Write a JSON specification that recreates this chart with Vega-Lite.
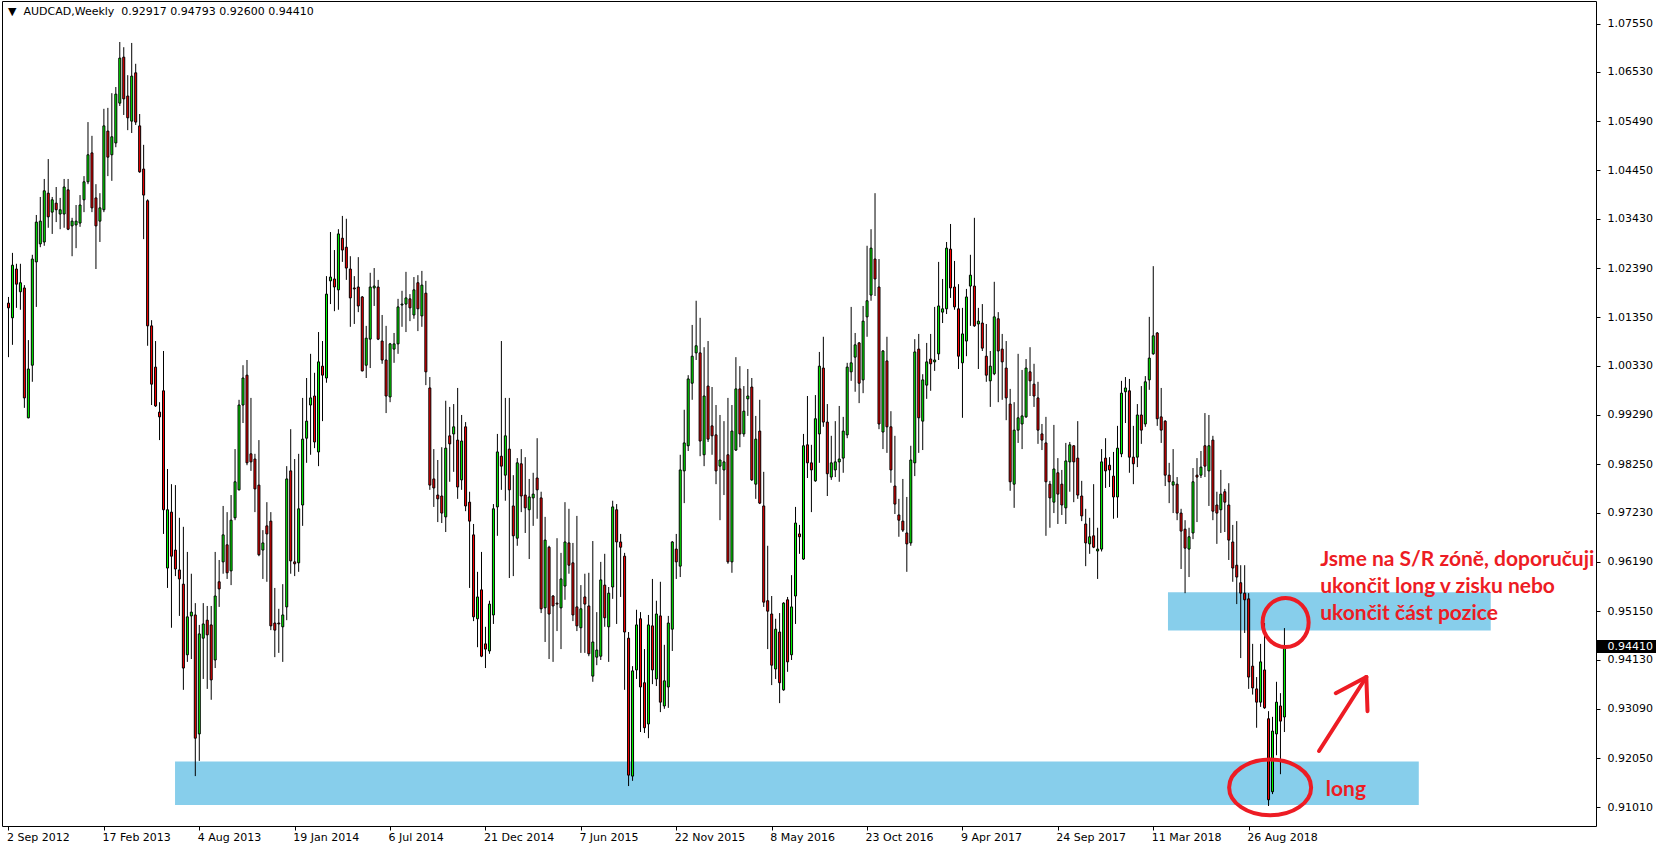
{
"$schema":"https://vega.github.io/schema/vega-lite/v6.json",
"width":1594,"height":825,
"autosize":{"type":"none"},
"padding":{"left":2,"top":1,"right":60,"bottom":24},
"background":"white",
"config":{"view":{"stroke":"black","strokeWidth":1},"font":"DejaVu Sans"},
"datasets":{
"candles":[
{"i":0,"o":1.0165,"h":1.0178,"l":1.0051,"c":1.0155},
{"i":1,"o":1.0134,"h":1.0271,"l":1.0077,"c":1.0245},
{"i":2,"o":1.0237,"h":1.0248,"l":1.0155,"c":1.0205},
{"i":3,"o":1.0189,"h":1.0248,"l":1.0151,"c":1.0208},
{"i":4,"o":1.0197,"h":1.0203,"l":0.9944,"c":0.9965},
{"i":5,"o":0.9923,"h":1.0087,"l":0.9922,"c":1.0026},
{"i":6,"o":1.0034,"h":1.0267,"l":0.9999,"c":1.0258},
{"i":7,"o":1.0252,"h":1.0351,"l":1.0157,"c":1.0336},
{"i":8,"o":1.0290,"h":1.0389,"l":1.0283,"c":1.0338},
{"i":9,"o":1.0294,"h":1.0427,"l":1.0286,"c":1.0402},
{"i":10,"o":1.0397,"h":1.0469,"l":1.0324,"c":1.0347},
{"i":11,"o":1.0357,"h":1.0389,"l":1.0311,"c":1.0383},
{"i":12,"o":1.0376,"h":1.0410,"l":1.0336,"c":1.0362},
{"i":13,"o":1.0353,"h":1.0387,"l":1.0321,"c":1.0362},
{"i":14,"o":1.0353,"h":1.0427,"l":1.0324,"c":1.0410},
{"i":15,"o":1.0404,"h":1.0427,"l":1.0319,"c":1.0321},
{"i":16,"o":1.0328,"h":1.0345,"l":1.0264,"c":1.0338},
{"i":17,"o":1.0330,"h":1.0372,"l":1.0281,"c":1.0338},
{"i":18,"o":1.0334,"h":1.0393,"l":1.0326,"c":1.0372},
{"i":19,"o":1.0383,"h":1.0433,"l":1.0357,"c":1.0421},
{"i":20,"o":1.0421,"h":1.0547,"l":1.0416,"c":1.0478},
{"i":21,"o":1.0482,"h":1.0518,"l":1.0357,"c":1.0366},
{"i":22,"o":1.0387,"h":1.0416,"l":1.0237,"c":1.0328},
{"i":23,"o":1.0338,"h":1.0397,"l":1.0294,"c":1.0366},
{"i":24,"o":1.0362,"h":1.0575,"l":1.0357,"c":1.0539},
{"i":25,"o":1.0528,"h":1.0577,"l":1.0433,"c":1.0473},
{"i":26,"o":1.0478,"h":1.0608,"l":1.0423,"c":1.0516},
{"i":27,"o":1.0503,"h":1.0621,"l":1.0494,"c":1.0606},
{"i":28,"o":1.0587,"h":1.0716,"l":1.0581,"c":1.0682},
{"i":29,"o":1.0684,"h":1.0705,"l":1.0562,"c":1.0596},
{"i":30,"o":1.0602,"h":1.0646,"l":1.0530,"c":1.0556},
{"i":31,"o":1.0549,"h":1.0714,"l":1.0524,"c":1.0644},
{"i":32,"o":1.0651,"h":1.0670,"l":1.0541,"c":1.0547},
{"i":33,"o":1.0539,"h":1.0564,"l":1.0440,"c":1.0442},
{"i":34,"o":1.0448,"h":1.0499,"l":1.0300,"c":1.0393},
{"i":35,"o":1.0381,"h":1.0384,"l":1.0075,"c":1.0117},
{"i":36,"o":1.0117,"h":1.0129,"l":0.9950,"c":0.9994},
{"i":37,"o":1.0030,"h":1.0085,"l":0.9946,"c":0.9948},
{"i":38,"o":0.9935,"h":0.9956,"l":0.9876,"c":0.9925},
{"i":39,"o":0.9980,"h":1.0064,"l":0.9678,"c":0.9729},
{"i":40,"o":0.9606,"h":0.9815,"l":0.9564,"c":0.9729},
{"i":41,"o":0.9724,"h":0.9783,"l":0.9480,"c":0.9631},
{"i":42,"o":0.9644,"h":0.9781,"l":0.9589,"c":0.9604},
{"i":43,"o":0.9602,"h":0.9712,"l":0.9505,"c":0.9583},
{"i":44,"o":0.9572,"h":0.9693,"l":0.9349,"c":0.9395},
{"i":45,"o":0.9423,"h":0.9640,"l":0.9408,"c":0.9503},
{"i":46,"o":0.9505,"h":0.9594,"l":0.9414,"c":0.9513},
{"i":47,"o":0.9507,"h":0.9532,"l":0.9167,"c":0.9247},
{"i":48,"o":0.9256,"h":0.9486,"l":0.9199,"c":0.9467},
{"i":49,"o":0.9458,"h":0.9532,"l":0.9372,"c":0.9488},
{"i":50,"o":0.9496,"h":0.9526,"l":0.9351,"c":0.9465},
{"i":51,"o":0.9486,"h":0.9526,"l":0.9328,"c":0.9370},
{"i":52,"o":0.9412,"h":0.9640,"l":0.9395,"c":0.9547},
{"i":53,"o":0.9577,"h":0.9623,"l":0.9524,"c":0.9562},
{"i":54,"o":0.9619,"h":0.9737,"l":0.9594,"c":0.9676},
{"i":55,"o":0.9655,"h":0.9724,"l":0.9583,"c":0.9596},
{"i":56,"o":0.9600,"h":0.9760,"l":0.9570,"c":0.9707},
{"i":57,"o":0.9712,"h":0.9857,"l":0.9707,"c":0.9788},
{"i":58,"o":0.9771,"h":0.9961,"l":0.9770,"c":0.9950},
{"i":59,"o":0.9950,"h":1.0034,"l":0.9912,"c":1.0007},
{"i":60,"o":1.0013,"h":1.0045,"l":0.9823,"c":0.9828},
{"i":61,"o":0.9847,"h":0.9965,"l":0.9811,"c":0.9830},
{"i":62,"o":0.9836,"h":0.9847,"l":0.9724,"c":0.9773},
{"i":63,"o":0.9781,"h":0.9876,"l":0.9631,"c":0.9634},
{"i":64,"o":0.9644,"h":0.9686,"l":0.9583,"c":0.9659},
{"i":65,"o":0.9695,"h":0.9745,"l":0.9577,"c":0.9678},
{"i":66,"o":0.9705,"h":0.9724,"l":0.9475,"c":0.9484},
{"i":67,"o":0.9490,"h":0.9564,"l":0.9418,"c":0.9475},
{"i":68,"o":0.9490,"h":0.9520,"l":0.9427,"c":0.9488},
{"i":69,"o":0.9482,"h":0.9572,"l":0.9408,"c":0.9507},
{"i":70,"o":0.9524,"h":0.9821,"l":0.9496,"c":0.9794},
{"i":71,"o":0.9811,"h":0.9899,"l":0.9594,"c":0.9621},
{"i":72,"o":0.9619,"h":0.9836,"l":0.9589,"c":0.9615},
{"i":73,"o":0.9617,"h":0.9847,"l":0.9598,"c":0.9731},
{"i":74,"o":0.9739,"h":0.9965,"l":0.9695,"c":0.9878},
{"i":75,"o":0.9880,"h":1.0007,"l":0.9828,"c":0.9916},
{"i":76,"o":0.9950,"h":1.0058,"l":0.9845,"c":0.9965},
{"i":77,"o":0.9969,"h":1.0018,"l":0.9859,"c":0.9872},
{"i":78,"o":0.9851,"h":1.0104,"l":0.9821,"c":1.0041},
{"i":79,"o":1.0032,"h":1.0085,"l":0.9916,"c":1.0013},
{"i":80,"o":1.0007,"h":1.0222,"l":0.9997,"c":1.0184},
{"i":81,"o":1.0212,"h":1.0315,"l":1.0163,"c":1.0220},
{"i":82,"o":1.0216,"h":1.0277,"l":1.0148,"c":1.0199},
{"i":83,"o":1.0193,"h":1.0321,"l":1.0151,"c":1.0311},
{"i":84,"o":1.0302,"h":1.0349,"l":1.0252,"c":1.0277},
{"i":85,"o":1.0283,"h":1.0343,"l":1.0214,"c":1.0239},
{"i":86,"o":1.0237,"h":1.0264,"l":1.0115,"c":1.0176},
{"i":87,"o":1.0197,"h":1.0222,"l":1.0121,"c":1.0195},
{"i":88,"o":1.0199,"h":1.0262,"l":1.0146,"c":1.0159},
{"i":89,"o":1.0178,"h":1.0180,"l":1.0021,"c":1.0022},
{"i":90,"o":1.0034,"h":1.0117,"l":1.0007,"c":1.0091},
{"i":91,"o":1.0089,"h":1.0229,"l":1.0028,"c":1.0199},
{"i":92,"o":1.0197,"h":1.0239,"l":1.0159,"c":1.0201},
{"i":93,"o":1.0199,"h":1.0214,"l":1.0087,"c":1.0089},
{"i":94,"o":1.0085,"h":1.0140,"l":1.0037,"c":1.0045},
{"i":95,"o":1.0045,"h":1.0117,"l":0.9933,"c":0.9969},
{"i":96,"o":0.9967,"h":1.0081,"l":0.9956,"c":1.0079},
{"i":97,"o":1.0068,"h":1.0102,"l":1.0039,"c":1.0079},
{"i":98,"o":1.0079,"h":1.0174,"l":1.0058,"c":1.0157},
{"i":99,"o":1.0161,"h":1.0191,"l":1.0115,"c":1.0163},
{"i":100,"o":1.0163,"h":1.0231,"l":1.0104,"c":1.0176},
{"i":101,"o":1.0174,"h":1.0184,"l":1.0127,"c":1.0155},
{"i":102,"o":1.0140,"h":1.0220,"l":1.0132,"c":1.0193},
{"i":103,"o":1.0208,"h":1.0224,"l":1.0106,"c":1.0153},
{"i":104,"o":1.0138,"h":1.0233,"l":1.0115,"c":1.0203},
{"i":105,"o":1.0186,"h":1.0212,"l":0.9992,"c":1.0020},
{"i":106,"o":0.9986,"h":1.0009,"l":0.9771,"c":0.9781},
{"i":107,"o":0.9794,"h":0.9857,"l":0.9735,"c":0.9775},
{"i":108,"o":0.9760,"h":0.9834,"l":0.9703,"c":0.9752},
{"i":109,"o":0.9758,"h":0.9861,"l":0.9701,"c":0.9722},
{"i":110,"o":0.9714,"h":0.9959,"l":0.9682,"c":0.9859},
{"i":111,"o":0.9885,"h":0.9946,"l":0.9788,"c":0.9868},
{"i":112,"o":0.9889,"h":0.9952,"l":0.9809,"c":0.9904},
{"i":113,"o":0.9876,"h":0.9986,"l":0.9752,"c":0.9777},
{"i":114,"o":0.9792,"h":0.9929,"l":0.9771,"c":0.9874},
{"i":115,"o":0.9904,"h":0.9914,"l":0.9726,"c":0.9737},
{"i":116,"o":0.9745,"h":0.9767,"l":0.9564,"c":0.9705},
{"i":117,"o":0.9676,"h":0.9699,"l":0.9494,"c":0.9503},
{"i":118,"o":0.9499,"h":0.9598,"l":0.9439,"c":0.9545},
{"i":119,"o":0.9560,"h":0.9640,"l":0.9418,"c":0.9420},
{"i":120,"o":0.9446,"h":0.9482,"l":0.9395,"c":0.9435},
{"i":121,"o":0.9431,"h":0.9537,"l":0.9425,"c":0.9530},
{"i":122,"o":0.9507,"h":0.9741,"l":0.9488,"c":0.9731},
{"i":123,"o":0.9735,"h":0.9889,"l":0.9674,"c":0.9851},
{"i":124,"o":0.9842,"h":1.0085,"l":0.9771,"c":0.9821},
{"i":125,"o":0.9802,"h":0.9965,"l":0.9748,"c":0.9885},
{"i":126,"o":0.9857,"h":0.9965,"l":0.9585,"c":0.9771},
{"i":127,"o":0.9737,"h":0.9802,"l":0.9589,"c":0.9674},
{"i":128,"o":0.9669,"h":0.9838,"l":0.9653,"c":0.9828},
{"i":129,"o":0.9826,"h":0.9857,"l":0.9724,"c":0.9758},
{"i":130,"o":0.9760,"h":0.9840,"l":0.9680,"c":0.9733},
{"i":131,"o":0.9729,"h":0.9794,"l":0.9625,"c":0.9756},
{"i":132,"o":0.9754,"h":0.9807,"l":0.9695,"c":0.9762},
{"i":133,"o":0.9796,"h":0.9880,"l":0.9710,"c":0.9771},
{"i":134,"o":0.9754,"h":0.9767,"l":0.9511,"c":0.9520},
{"i":135,"o":0.9522,"h":0.9714,"l":0.9450,"c":0.9665},
{"i":136,"o":0.9650,"h":0.9653,"l":0.9414,"c":0.9509},
{"i":137,"o":0.9547,"h":0.9549,"l":0.9408,"c":0.9526},
{"i":138,"o":0.9532,"h":0.9669,"l":0.9473,"c":0.9530},
{"i":139,"o":0.9522,"h":0.9638,"l":0.9435,"c":0.9583},
{"i":140,"o":0.9568,"h":0.9745,"l":0.9539,"c":0.9661},
{"i":141,"o":0.9659,"h":0.9731,"l":0.9594,"c":0.9612},
{"i":142,"o":0.9617,"h":0.9659,"l":0.9494,"c":0.9507},
{"i":143,"o":0.9524,"h":0.9716,"l":0.9473,"c":0.9484},
{"i":144,"o":0.9480,"h":0.9570,"l":0.9427,"c":0.9520},
{"i":145,"o":0.9545,"h":0.9594,"l":0.9427,"c":0.9530},
{"i":146,"o":0.9526,"h":0.9596,"l":0.9420,"c":0.9425},
{"i":147,"o":0.9378,"h":0.9663,"l":0.9366,"c":0.9450},
{"i":148,"o":0.9418,"h":0.9513,"l":0.9401,"c":0.9433},
{"i":149,"o":0.9420,"h":0.9619,"l":0.9412,"c":0.9581},
{"i":150,"o":0.9570,"h":0.9636,"l":0.9482,"c":0.9501},
{"i":151,"o":0.9482,"h":0.9566,"l":0.9408,"c":0.9553},
{"i":152,"o":0.9566,"h":0.9748,"l":0.9541,"c":0.9735},
{"i":153,"o":0.9729,"h":0.9741,"l":0.9488,"c":0.9661},
{"i":154,"o":0.9661,"h":0.9678,"l":0.9545,"c":0.9650},
{"i":155,"o":0.9631,"h":0.9638,"l":0.9349,"c":0.9471},
{"i":156,"o":0.9458,"h":0.9471,"l":0.9146,"c":0.9169},
{"i":157,"o":0.9167,"h":0.9399,"l":0.9157,"c":0.9389},
{"i":158,"o":0.9391,"h":0.9518,"l":0.9372,"c":0.9486},
{"i":159,"o":0.9499,"h":0.9513,"l":0.9260,"c":0.9355},
{"i":160,"o":0.9364,"h":0.9435,"l":0.9258,"c":0.9269},
{"i":161,"o":0.9277,"h":0.9507,"l":0.9247,"c":0.9486},
{"i":162,"o":0.9484,"h":0.9583,"l":0.9361,"c":0.9391},
{"i":163,"o":0.9372,"h":0.9537,"l":0.9357,"c":0.9509},
{"i":164,"o":0.9505,"h":0.9577,"l":0.9302,"c":0.9323},
{"i":165,"o":0.9315,"h":0.9444,"l":0.9309,"c":0.9368},
{"i":166,"o":0.9355,"h":0.9505,"l":0.9311,"c":0.9490},
{"i":167,"o":0.9477,"h":0.9663,"l":0.9431,"c":0.9661},
{"i":168,"o":0.9646,"h":0.9678,"l":0.9583,"c":0.9619},
{"i":169,"o":0.9610,"h":0.9845,"l":0.9587,"c":0.9813},
{"i":170,"o":0.9811,"h":0.9940,"l":0.9743,"c":0.9870},
{"i":171,"o":0.9864,"h":1.0013,"l":0.9853,"c":1.0005},
{"i":172,"o":0.9996,"h":1.0119,"l":0.9961,"c":1.0053},
{"i":173,"o":1.0060,"h":1.0170,"l":1.0045,"c":1.0075},
{"i":174,"o":1.0060,"h":1.0134,"l":0.9842,"c":0.9874},
{"i":175,"o":0.9845,"h":1.0072,"l":0.9821,"c":0.9969},
{"i":176,"o":0.9990,"h":1.0085,"l":0.9872,"c":0.9878},
{"i":177,"o":0.9906,"h":0.9988,"l":0.9845,"c":0.9885},
{"i":178,"o":0.9887,"h":0.9950,"l":0.9783,"c":0.9811},
{"i":179,"o":0.9821,"h":0.9929,"l":0.9707,"c":0.9834},
{"i":180,"o":0.9813,"h":0.9916,"l":0.9760,"c":0.9830},
{"i":181,"o":0.9845,"h":0.9965,"l":0.9615,"c":0.9619},
{"i":182,"o":0.9619,"h":0.9950,"l":0.9596,"c":0.9895},
{"i":183,"o":0.9855,"h":1.0051,"l":0.9853,"c":0.9984},
{"i":184,"o":0.9984,"h":1.0032,"l":0.9861,"c":0.9889},
{"i":185,"o":0.9889,"h":0.9990,"l":0.9883,"c":0.9937},
{"i":186,"o":0.9963,"h":1.0026,"l":0.9927,"c":0.9969},
{"i":187,"o":0.9988,"h":1.0007,"l":0.9790,"c":0.9792},
{"i":188,"o":0.9783,"h":0.9927,"l":0.9752,"c":0.9878},
{"i":189,"o":0.9895,"h":0.9961,"l":0.9741,"c":0.9743},
{"i":190,"o":0.9737,"h":0.9809,"l":0.9524,"c":0.9534},
{"i":191,"o":0.9537,"h":0.9653,"l":0.9435,"c":0.9515},
{"i":192,"o":0.9509,"h":0.9547,"l":0.9359,"c":0.9401},
{"i":193,"o":0.9393,"h":0.9499,"l":0.9372,"c":0.9477},
{"i":194,"o":0.9471,"h":0.9511,"l":0.9321,"c":0.9364},
{"i":195,"o":0.9349,"h":0.9534,"l":0.9347,"c":0.9532},
{"i":196,"o":0.9539,"h":0.9545,"l":0.9387,"c":0.9408},
{"i":197,"o":0.9423,"h":0.9591,"l":0.9412,"c":0.9524},
{"i":198,"o":0.9547,"h":0.9735,"l":0.9488,"c":0.9701},
{"i":199,"o":0.9678,"h":0.9697,"l":0.9636,"c":0.9672},
{"i":200,"o":0.9625,"h":0.9889,"l":0.9623,"c":0.9864},
{"i":201,"o":0.9866,"h":0.9969,"l":0.9796,"c":0.9828},
{"i":202,"o":0.9828,"h":0.9866,"l":0.9724,"c":0.9813},
{"i":203,"o":0.9790,"h":0.9971,"l":0.9788,"c":0.9921},
{"i":204,"o":0.9889,"h":1.0062,"l":0.9828,"c":1.0032},
{"i":205,"o":1.0028,"h":1.0094,"l":0.9904,"c":0.9914},
{"i":206,"o":0.9914,"h":0.9952,"l":0.9758,"c":0.9805},
{"i":207,"o":0.9798,"h":0.9885,"l":0.9792,"c":0.9828},
{"i":208,"o":0.9813,"h":0.9916,"l":0.9798,"c":0.9830},
{"i":209,"o":0.9830,"h":0.9948,"l":0.9788,"c":0.9836},
{"i":210,"o":0.9838,"h":0.9925,"l":0.9807,"c":0.9895},
{"i":211,"o":0.9887,"h":1.0039,"l":0.9880,"c":1.0030},
{"i":212,"o":1.0020,"h":1.0157,"l":1.0001,"c":1.0039},
{"i":213,"o":1.0051,"h":1.0102,"l":0.9978,"c":1.0077},
{"i":214,"o":1.0081,"h":1.0083,"l":0.9954,"c":0.9996},
{"i":215,"o":1.0003,"h":1.0159,"l":0.9975,"c":1.0127},
{"i":216,"o":1.0136,"h":1.0286,"l":1.0094,"c":1.0170},
{"i":217,"o":1.0182,"h":1.0321,"l":1.0170,"c":1.0281},
{"i":218,"o":1.0258,"h":1.0397,"l":1.0180,"c":1.0216},
{"i":219,"o":1.0199,"h":1.0258,"l":0.9899,"c":0.9910},
{"i":220,"o":0.9893,"h":1.0066,"l":0.9857,"c":1.0064},
{"i":221,"o":1.0043,"h":1.0094,"l":0.9849,"c":0.9904},
{"i":222,"o":0.9904,"h":0.9937,"l":0.9786,"c":0.9813},
{"i":223,"o":0.9779,"h":0.9885,"l":0.9720,"c":0.9741},
{"i":224,"o":0.9718,"h":0.9752,"l":0.9672,"c":0.9707},
{"i":225,"o":0.9705,"h":0.9794,"l":0.9682,"c":0.9686},
{"i":226,"o":0.9680,"h":0.9756,"l":0.9598,"c":0.9657},
{"i":227,"o":0.9659,"h":0.9864,"l":0.9653,"c":0.9834},
{"i":228,"o":0.9828,"h":1.0089,"l":0.9800,"c":1.0062},
{"i":229,"o":1.0068,"h":1.0100,"l":0.9849,"c":0.9923},
{"i":230,"o":0.9916,"h":1.0015,"l":0.9855,"c":1.0003},
{"i":231,"o":0.9992,"h":1.0081,"l":0.9963,"c":1.0041},
{"i":232,"o":1.0047,"h":1.0100,"l":0.9980,"c":1.0037},
{"i":233,"o":1.0041,"h":1.0157,"l":1.0022,"c":1.0045},
{"i":234,"o":1.0058,"h":1.0252,"l":1.0045,"c":1.0159},
{"i":235,"o":1.0146,"h":1.0216,"l":1.0123,"c":1.0153},
{"i":236,"o":1.0153,"h":1.0294,"l":1.0142,"c":1.0281},
{"i":237,"o":1.0279,"h":1.0332,"l":1.0176,"c":1.0197},
{"i":238,"o":1.0199,"h":1.0254,"l":1.0151,"c":1.0157},
{"i":239,"o":1.0153,"h":1.0205,"l":1.0026,"c":1.0053},
{"i":240,"o":1.0039,"h":1.0155,"l":0.9923,"c":1.0100},
{"i":241,"o":1.0085,"h":1.0195,"l":1.0053,"c":1.0178},
{"i":242,"o":1.0201,"h":1.0267,"l":1.0117,"c":1.0224},
{"i":243,"o":1.0201,"h":1.0345,"l":1.0115,"c":1.0117},
{"i":244,"o":1.0121,"h":1.0155,"l":1.0026,"c":1.0127},
{"i":245,"o":1.0123,"h":1.0163,"l":1.0064,"c":1.0070},
{"i":246,"o":1.0053,"h":1.0121,"l":0.9999,"c":1.0013},
{"i":247,"o":1.0001,"h":1.0064,"l":0.9946,"c":1.0032},
{"i":248,"o":1.0016,"h":1.0210,"l":1.0013,"c":1.0136},
{"i":249,"o":1.0132,"h":1.0146,"l":0.9956,"c":1.0064},
{"i":250,"o":1.0068,"h":1.0100,"l":0.9961,"c":1.0041},
{"i":251,"o":1.0028,"h":1.0085,"l":0.9918,"c":0.9965},
{"i":252,"o":0.9952,"h":0.9984,"l":0.9769,"c":0.9788},
{"i":253,"o":0.9783,"h":0.9956,"l":0.9733,"c":0.9897},
{"i":254,"o":0.9897,"h":1.0058,"l":0.9870,"c":0.9923},
{"i":255,"o":0.9910,"h":1.0024,"l":0.9857,"c":0.9927},
{"i":256,"o":0.9925,"h":1.0047,"l":0.9923,"c":1.0028},
{"i":257,"o":1.0020,"h":1.0072,"l":0.9969,"c":1.0001},
{"i":258,"o":0.9994,"h":1.0037,"l":0.9946,"c":0.9969},
{"i":259,"o":0.9965,"h":0.9999,"l":0.9868,"c":0.9897},
{"i":260,"o":0.9889,"h":0.9910,"l":0.9855,"c":0.9876},
{"i":261,"o":0.9870,"h":0.9925,"l":0.9674,"c":0.9788},
{"i":262,"o":0.9783,"h":0.9790,"l":0.9691,"c":0.9754},
{"i":263,"o":0.9745,"h":0.9908,"l":0.9722,"c":0.9815},
{"i":264,"o":0.9807,"h":0.9838,"l":0.9699,"c":0.9762},
{"i":265,"o":0.9783,"h":0.9813,"l":0.9718,"c":0.9739},
{"i":266,"o":0.9733,"h":0.9870,"l":0.9699,"c":0.9832},
{"i":267,"o":0.9830,"h":0.9872,"l":0.9767,"c":0.9866},
{"i":268,"o":0.9864,"h":0.9865,"l":0.9745,"c":0.9830},
{"i":269,"o":0.9838,"h":0.9916,"l":0.9752,"c":0.9760},
{"i":270,"o":0.9758,"h":0.9790,"l":0.9705,"c":0.9716},
{"i":271,"o":0.9699,"h":0.9731,"l":0.9610,"c":0.9659},
{"i":272,"o":0.9657,"h":0.9712,"l":0.9636,"c":0.9672},
{"i":273,"o":0.9674,"h":0.9783,"l":0.9648,"c":0.9650},
{"i":274,"o":0.9642,"h":0.9691,"l":0.9583,"c":0.9646},
{"i":275,"o":0.9646,"h":0.9857,"l":0.9641,"c":0.9830},
{"i":276,"o":0.9838,"h":0.9880,"l":0.9775,"c":0.9811},
{"i":277,"o":0.9823,"h":0.9840,"l":0.9777,"c":0.9813},
{"i":278,"o":0.9800,"h":0.9851,"l":0.9710,"c":0.9756},
{"i":279,"o":0.9756,"h":0.9906,"l":0.9712,"c":0.9859},
{"i":280,"o":0.9847,"h":1.0001,"l":0.9840,"c":0.9975},
{"i":281,"o":0.9978,"h":1.0009,"l":0.9912,"c":0.9986},
{"i":282,"o":0.9980,"h":1.0005,"l":0.9807,"c":0.9840},
{"i":283,"o":0.9840,"h":0.9906,"l":0.9783,"c":0.9826},
{"i":284,"o":0.9840,"h":0.9952,"l":0.9819,"c":0.9929},
{"i":285,"o":0.9929,"h":0.9990,"l":0.9868,"c":0.9897},
{"i":286,"o":0.9910,"h":1.0011,"l":0.9904,"c":0.9999},
{"i":287,"o":1.0003,"h":1.0136,"l":0.9982,"c":1.0049},
{"i":288,"o":1.0058,"h":1.0243,"l":1.0056,"c":1.0096},
{"i":289,"o":1.0102,"h":1.0104,"l":0.9906,"c":0.9921},
{"i":290,"o":0.9925,"h":0.9986,"l":0.9870,"c":0.9897},
{"i":291,"o":0.9916,"h":0.9918,"l":0.9779,"c":0.9802},
{"i":292,"o":0.9802,"h":0.9828,"l":0.9743,"c":0.9788},
{"i":293,"o":0.9781,"h":0.9857,"l":0.9722,"c":0.9788},
{"i":294,"o":0.9783,"h":0.9798,"l":0.9707,"c":0.9722},
{"i":295,"o":0.9722,"h":0.9731,"l":0.9604,"c":0.9684},
{"i":296,"o":0.9688,"h":0.9707,"l":0.9553,"c":0.9648},
{"i":297,"o":0.9646,"h":0.9691,"l":0.9587,"c":0.9672},
{"i":298,"o":0.9680,"h":0.9817,"l":0.9667,"c":0.9788},
{"i":299,"o":0.9802,"h":0.9838,"l":0.9703,"c":0.9798},
{"i":300,"o":0.9802,"h":0.9853,"l":0.9796,"c":0.9819},
{"i":301,"o":0.9864,"h":0.9933,"l":0.9798,"c":0.9821},
{"i":302,"o":0.9811,"h":0.9929,"l":0.9737,"c":0.9864},
{"i":303,"o":0.9876,"h":0.9885,"l":0.9707,"c":0.9726},
{"i":304,"o":0.9739,"h":0.9767,"l":0.9657,"c":0.9722},
{"i":305,"o":0.9729,"h":0.9813,"l":0.9680,"c":0.9762},
{"i":306,"o":0.9767,"h":0.9773,"l":0.9682,"c":0.9745},
{"i":307,"o":0.9739,"h":0.9785,"l":0.9623,"c":0.9665},
{"i":308,"o":0.9661,"h":0.9697,"l":0.9577,"c":0.9606},
{"i":309,"o":0.9612,"h":0.9705,"l":0.9530,"c":0.9587},
{"i":310,"o":0.9575,"h":0.9612,"l":0.9416,"c":0.9553},
{"i":311,"o":0.9553,"h":0.9612,"l":0.9469,"c":0.9539},
{"i":312,"o":0.9541,"h":0.9553,"l":0.9351,"c":0.9376},
{"i":313,"o":0.9399,"h":0.9446,"l":0.9339,"c":0.9353},
{"i":314,"o":0.9351,"h":0.9376,"l":0.9269,"c":0.9323},
{"i":315,"o":0.9323,"h":0.9446,"l":0.9313,"c":0.9408},
{"i":316,"o":0.9391,"h":0.9490,"l":0.9309,"c":0.9311},
{"i":317,"o":0.9288,"h":0.9304,"l":0.9104,"c":0.9117},
{"i":318,"o":0.9134,"h":0.9292,"l":0.9129,"c":0.9262},
{"i":319,"o":0.9256,"h":0.9366,"l":0.9211,"c":0.9323},
{"i":320,"o":0.9315,"h":0.9342,"l":0.9171,"c":0.9283},
{"i":321,"o":0.92917,"h":0.94793,"l":0.92600,"c":0.94410}
],
"bands":[
{"i":41.9,"i2":354.8,"p":0.9198,"p2":0.9106},
{"i":291.7,"i2":372.9,"p":0.9555,"p2":0.9474}
],
"arrow":[
{"seg":"shaft","i":329.7,"p":0.9220},
{"seg":"shaft","i":341.6,"p":0.9376},
{"seg":"left","i":333.9,"p":0.9342},
{"seg":"left","i":341.6,"p":0.9376},
{"seg":"right","i":341.9,"p":0.9304},
{"seg":"right","i":341.6,"p":0.9376}
],
"note":[
{"i":330.0,"p":0.9623,"t":"Jsme na S/R zóně, doporučuji"},
{"i":330.0,"p":0.9566,"t":"ukončit long v zisku nebo"},
{"i":330.0,"p":0.9509,"t":"ukončit část pozice"}
]
},
"encoding":{
"x":{"field":"i","type":"quantitative","scale":{"domain":[-0.375,398.125],"nice":false,"zero":false},
"axis":{"orient":"bottom","values":[0,24,48,72,96,120,144,168,192,216,240,264,288,312],
"labelExpr":"datum.value==0?'2 Sep 2012':datum.value==24?'17 Feb 2013':datum.value==48?'4 Aug 2013':datum.value==72?'19 Jan 2014':datum.value==96?'6 Jul 2014':datum.value==120?'21 Dec 2014':datum.value==144?'7 Jun 2015':datum.value==168?'22 Nov 2015':datum.value==192?'8 May 2016':datum.value==216?'23 Oct 2016':datum.value==240?'9 Apr 2017':datum.value==264?'24 Sep 2017':datum.value==288?'11 Mar 2018':'26 Aug 2018'",
"labelAlign":"left","labelBaseline":"top","labelOffset":-2,"labelPadding":1,"tickSize":4,"tickColor":"black","domain":false,"grid":false,"title":null,
"labelFont":"DejaVu Sans","labelFontSize":11,"labelColor":"black","labelFlush":false,"labelOverlap":false}}
},
"layer":[
{
"data":{"name":"bands"},
"mark":{"type":"rect","fill":"#87CEEB"},
"encoding":{
"x2":{"field":"i2"},
"y":{"field":"p","type":"quantitative","scale":{"domain":[0.90617,1.08025],"nice":false,"zero":false},
"axis":{"orient":"right","values":[0.9101,0.9205,0.9309,0.9413,0.9515,0.9619,0.9723,0.9825,0.9929,1.0033,1.0135,1.0239,1.0343,1.0445,1.0549,1.0653,1.0755],
"format":".5f","tickSize":4,"tickColor":"black","labelPadding":7,"domain":false,"grid":false,"title":null,
"labelFont":"DejaVu Sans","labelFontSize":11,"labelColor":"black","labelBaseline":"middle","labelFlush":false,"labelOverlap":false}},
"y2":{"field":"p2"}
}
},
{
"data":{"name":"candles"},
"mark":{"type":"rule","color":"black","strokeWidth":1},
"encoding":{
"y":{"field":"l","type":"quantitative","scale":{"domain":[0.90617,1.08025],"nice":false,"zero":false},"axis":null},
"y2":{"field":"h"}
}
},
{
"data":{"name":"candles"},
"mark":{"type":"bar","width":2,"stroke":"black","strokeWidth":1},
"encoding":{
"y":{"field":"o","type":"quantitative","scale":{"domain":[0.90617,1.08025],"nice":false,"zero":false},"axis":null},
"y2":{"field":"c"},
"fill":{"condition":{"test":"datum.c >= datum.o","value":"#00ff00"},"value":"#ff0000"}
}
},
{
"data":{"values":[{"i":317.4,"p":0.9143}]},
"mark":{"type":"point","filled":false,"stroke":"#ED1C24","strokeWidth":4,"opacity":1,"size":6724,
"shape":"M 1 0 C 1 0.3756 0.5523 0.68 0 0.68 C -0.5523 0.68 -1 0.3756 -1 0 C -1 -0.3756 -0.5523 -0.68 0 -0.68 C 0.5523 -0.68 1 -0.3756 1 0 Z"},
"encoding":{
"y":{"field":"p","type":"quantitative","scale":{"domain":[0.90617,1.08025],"nice":false,"zero":false},"axis":null}
}
},
{
"data":{"values":[{"i":321.3,"p":0.9491}]},
"mark":{"type":"point","filled":false,"stroke":"#ED1C24","strokeWidth":4,"opacity":1,"size":2401,
"shape":"M 0.94 0 C 0.94 0.5523 0.519 1 0 1 C -0.519 1 -0.94 0.5523 -0.94 0 C -0.94 -0.5523 -0.519 -1 0 -1 C 0.519 -1 0.94 -0.5523 0.94 0 Z"},
"encoding":{
"y":{"field":"p","type":"quantitative","scale":{"domain":[0.90617,1.08025],"nice":false,"zero":false},"axis":null}
}
},
{
"data":{"name":"arrow"},
"mark":{"type":"line","stroke":"#ED1C24","strokeWidth":4,"strokeCap":"round"},
"encoding":{
"y":{"field":"p","type":"quantitative","scale":{"domain":[0.90617,1.08025],"nice":false,"zero":false},"axis":null},
"detail":{"field":"seg","type":"nominal"}
}
},
{
"data":{"values":[{"i":331.4,"p":0.9125,"t":"long"}]},
"mark":{"type":"text","align":"left","baseline":"alphabetic","font":"Lato","fontSize":21,"fontWeight":"bold","color":"#ED1C24"},
"encoding":{
"y":{"field":"p","type":"quantitative","scale":{"domain":[0.90617,1.08025],"nice":false,"zero":false},
"axis":{"orient":"right","values":[0.9441],"format":".5f","tickSize":60,"tickWidth":13,"tickColor":"black","tickCap":"butt",
"labelPadding":-49,"labelColor":"white","labelFont":"DejaVu Sans","labelFontSize":11,"labelBaseline":"middle",
"domain":false,"grid":false,"title":null,"labelFlush":false,"labelOverlap":false}},
"text":{"field":"t"}
}
},
{
"data":{"name":"note"},
"mark":{"type":"text","align":"left","baseline":"middle","font":"Lato","fontSize":21,"fontWeight":"bold","color":"#ED1C24"},
"encoding":{
"y":{"field":"p","type":"quantitative","scale":{"domain":[0.90617,1.08025],"nice":false,"zero":false},"axis":null},
"text":{"field":"t"}
}
},
{
"data":{"values":[{"i":-0.125,"p":1.0779,"t":"▼\u00a0\u00a0AUDCAD,Weekly\u00a0\u00a00.92917 0.94793 0.92600 0.94410"}]},
"mark":{"type":"text","align":"left","baseline":"middle","font":"DejaVu Sans","fontSize":11,"color":"black"},
"encoding":{
"y":{"field":"p","type":"quantitative","scale":{"domain":[0.90617,1.08025],"nice":false,"zero":false},"axis":null},
"text":{"field":"t"}
}
}
],
"resolve":{"axis":{"y":"independent"}}
}
